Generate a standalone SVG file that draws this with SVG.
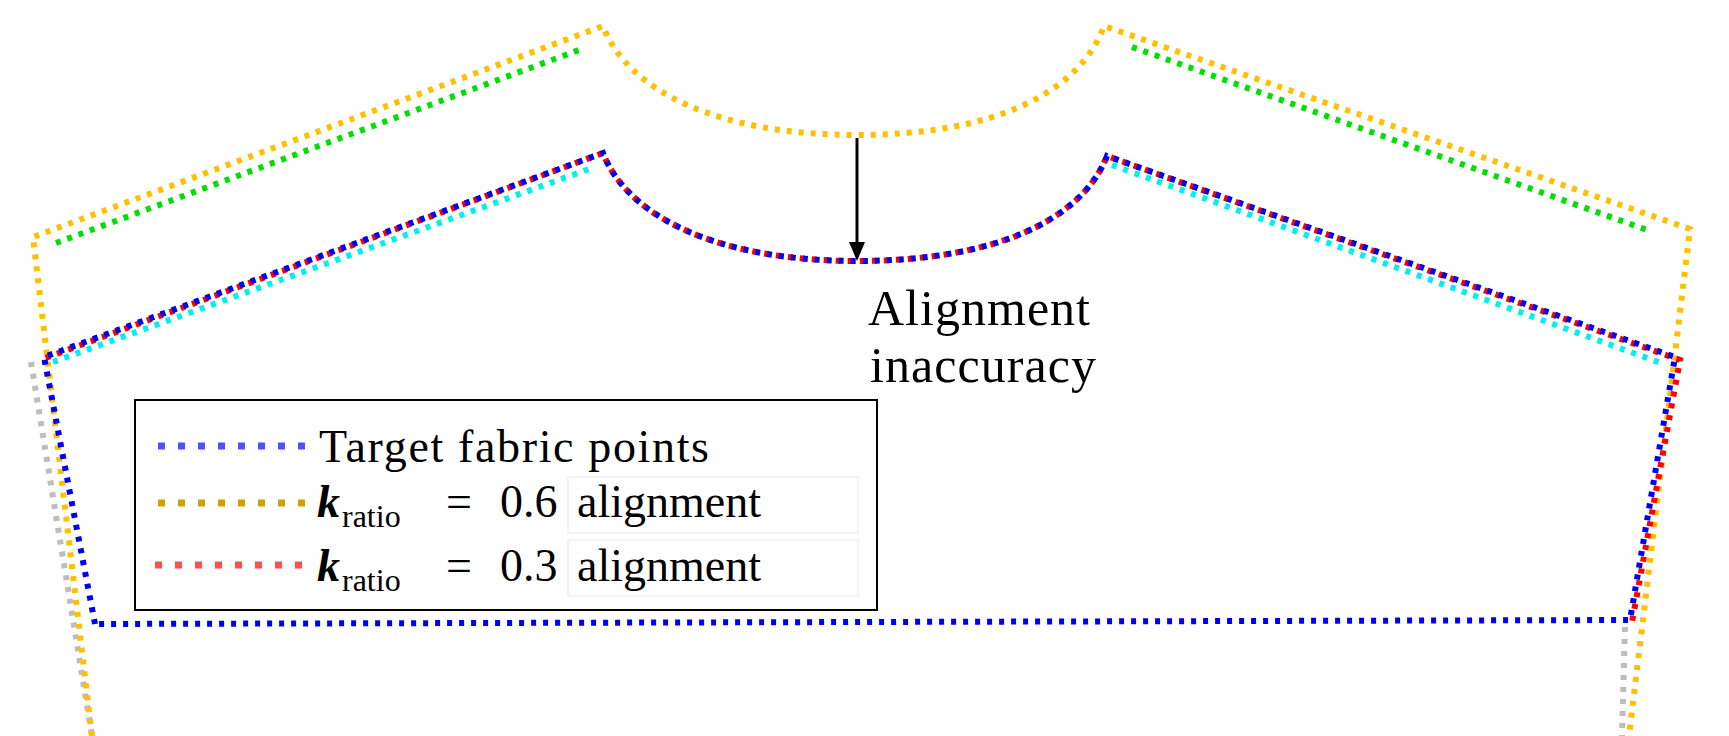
<svg xmlns="http://www.w3.org/2000/svg" width="1729" height="736" viewBox="0 0 1729 736">
<style>
.p{fill:none;stroke-width:6;stroke-dasharray:5 7}
.gray{stroke:#bdbdbd}.yel{stroke:#ffc000}.grn{stroke:#00e000}.cyn{stroke:#00f0f0}.red{stroke:#ff0000;stroke-dashoffset:6}.blu{stroke:#0000f0}
.lg{fill:none;stroke-width:7;stroke-dasharray:7 13}
text{fill:#000}
</style>
<rect width="1729" height="736" fill="#fff"/>
<g id="connectors">
<path class="p gray" d="M31,362 L92,736 M1625,627 L1622,736"/>
<path class="p yel" d="M92,736 L33,237 L603,26 C628,92 720,135 857,135 C995,135 1080,92 1104,26 L1690,229 L1629,736"/>
<path class="p grn" d="M56,243 L579,50 M1132,47 L1650,231"/>
<path class="p cyn" d="M53,362 L592,168 M1112,165 L1661,363"/>
<path class="p red" d="M40,360 L603,153 C628,218 720,261 857,261 C995,261 1082,220 1107,156 L1680,360 L1632,622"/>
<path class="p blu" d="M95,624 L44,357 L603,153 C628,218 720,261 857,261 C995,261 1082,220 1107,156 L1675,357 L1630,620 L95,624"/>
<line x1="857" y1="138" x2="857" y2="246" stroke="#000" stroke-width="3"/>
<polygon points="849,242 865,242 857,261" fill="#000"/>
</g>
<g id="label" font-family="Liberation Serif, Times New Roman, DejaVu Serif, serif">
<text x="868" y="325" font-size="50" textLength="222">Alignment</text>
<text x="870" y="382" font-size="50" textLength="226">inaccuracy</text>
</g>
<g id="legend" font-family="Liberation Serif, Times New Roman, DejaVu Serif, serif">
<rect x="135" y="400" width="742" height="210" fill="#fff" stroke="#000" stroke-width="2"/>
<rect x="568" y="477" width="290" height="56" fill="none" stroke="#f4f4f4" stroke-width="2"/>
<rect x="568" y="540" width="290" height="56" fill="none" stroke="#f4f4f4" stroke-width="2"/>
<line class="lg" x1="158" y1="446" x2="315" y2="446" stroke="#5050ff"/>
<line class="lg" x1="158" y1="503" x2="315" y2="503" stroke="#d4a000"/>
<line class="lg" x1="155" y1="565" x2="315" y2="565" stroke="#ff5050"/>
<text x="319" y="462" font-size="46" textLength="390">Target fabric points</text>
<text y="517" font-size="46"><tspan x="317" font-style="italic" font-weight="bold">k</tspan><tspan x="342" dy="10" font-size="32">ratio</tspan><tspan x="446" dy="-10">=</tspan><tspan x="500">0.6</tspan><tspan x="577">alignment</tspan></text>
<text y="581" font-size="46"><tspan x="317" font-style="italic" font-weight="bold">k</tspan><tspan x="342" dy="10" font-size="32">ratio</tspan><tspan x="446" dy="-10">=</tspan><tspan x="500">0.3</tspan><tspan x="577">alignment</tspan></text>
</g>
</svg>
